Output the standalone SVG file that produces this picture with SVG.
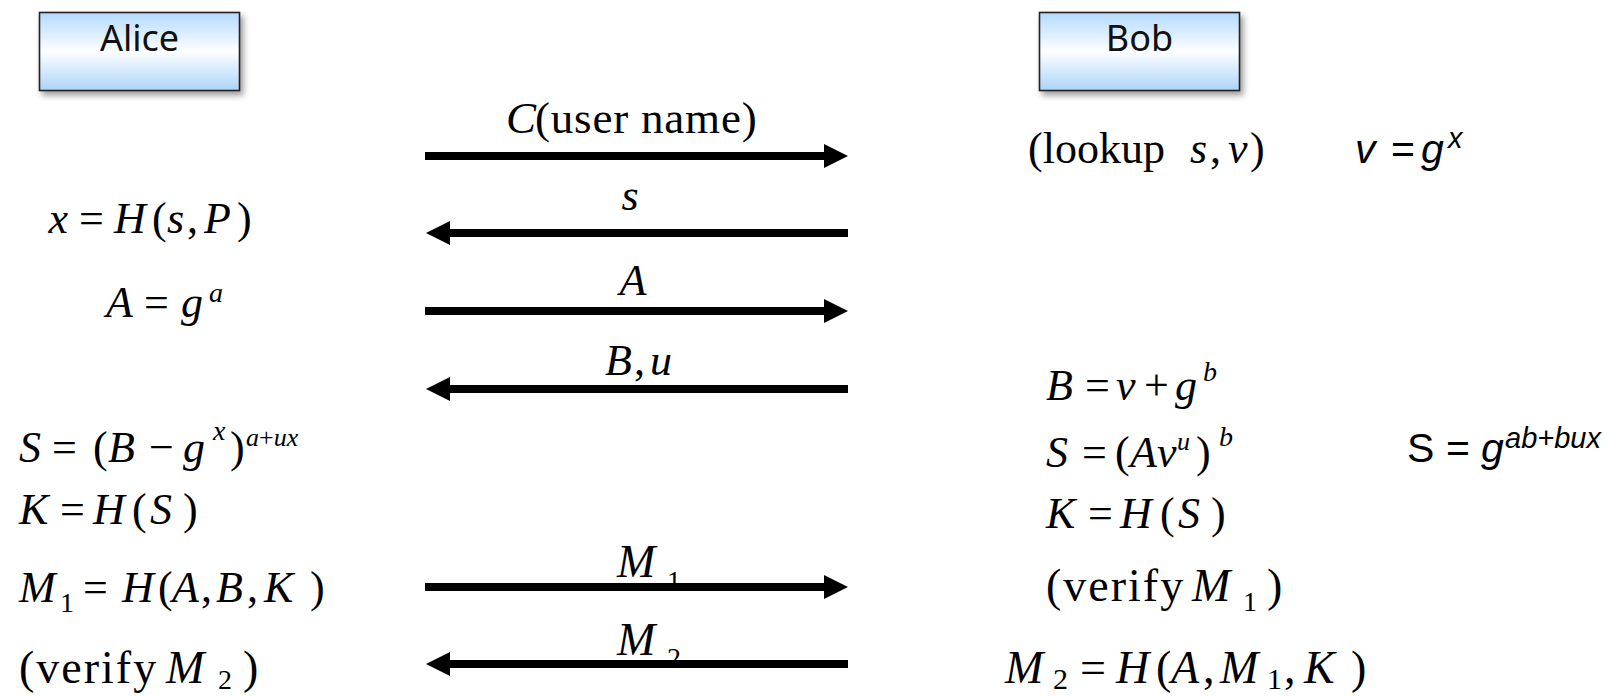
<svg xmlns="http://www.w3.org/2000/svg" width="1619" height="696" viewBox="0 0 1619 696">
  <style>
    .m { font-family: "Liberation Serif", "Times New Roman", serif; font-size: 44px; fill: #000; }
    .i { font-style: italic; }
    .big { font-size: 46px; letter-spacing: 2px; }
    .sup { font-size: 28px; }
    .sm { font-size: 26px; }
    .sans { font-family: "Liberation Sans", Arial, sans-serif; font-size: 41px; fill: #000; }
    .who { font-family: "Noto Sans", "Liberation Sans", sans-serif; font-size: 36px; fill: #111; text-anchor: middle; }
    .box { fill: url(#boxFill); stroke: #222; stroke-width: 1.6; filter: url(#shadow); }
    .msg { stroke: #000; stroke-width: 8; fill: none; marker-end: url(#head); }
  </style>
  <defs>
    <linearGradient id="boxFill" x1="0" y1="0" x2="0" y2="1">
      <stop offset="0" stop-color="#b4d9fd"/>
      <stop offset="0.5" stop-color="#fdfeff"/>
      <stop offset="1" stop-color="#acd4fa"/>
    </linearGradient>
    <filter id="shadow" x="-10%" y="-20%" width="125%" height="150%">
      <feDropShadow dx="3" dy="4" stdDeviation="3" flood-color="#000" flood-opacity="0.4"/>
    </filter>
    <marker id="head" markerUnits="userSpaceOnUse" markerWidth="24" markerHeight="24" refX="6" refY="12" orient="auto">
      <path d="M0,0 L24,12 L0,24 z" fill="#000"/>
    </marker>
  </defs>

  <!-- parties -->
  <g id="node-alice">
    <rect class="box" x="39.5" y="12.5" width="200" height="78"/>
    <text class="who" x="139.5" y="51">Alice</text>
  </g>
  <g id="node-bob">
    <rect class="box" x="1039.5" y="12.5" width="200" height="78"/>
    <text class="who" x="1139.5" y="51">Bob</text>
  </g>

  <!-- Alice's computations -->
  <g id="alice-steps">
    <text class="m"><tspan class="i" x="48.5" y="233">x</tspan><tspan x="79">=</tspan><tspan class="i" x="114">H</tspan><tspan x="152">(</tspan><tspan class="i" x="167">s</tspan><tspan x="187">,</tspan><tspan class="i" x="204">P</tspan><tspan x="237">)</tspan></text>
    <text class="m"><tspan class="i" x="106" y="317">A</tspan><tspan x="144">=</tspan><tspan class="i" x="181">g</tspan><tspan class="i sup" x="209" y="302">a</tspan></text>
    <text class="m"><tspan class="i" x="19" y="462">S</tspan><tspan x="52">=</tspan><tspan x="93">(</tspan><tspan class="i" x="108">B</tspan><tspan x="149">−</tspan><tspan class="i" x="183">g</tspan><tspan class="i sup" x="213" y="440">x</tspan><tspan x="230" y="462">)</tspan><tspan class="sm" x="246" y="446"><tspan class="i">a</tspan>+<tspan class="i">ux</tspan></tspan></text>
    <text class="m"><tspan class="i" x="19" y="524">K</tspan><tspan x="60">=</tspan><tspan class="i" x="93">H</tspan><tspan x="132">(</tspan><tspan class="i" x="150">S</tspan><tspan x="183">)</tspan></text>
    <text class="m"><tspan class="i" x="19" y="602">M</tspan><tspan class="sup" x="60" y="612">1</tspan><tspan x="83" y="602">=</tspan><tspan class="i" x="122">H</tspan><tspan x="158">(</tspan><tspan class="i" x="172">A</tspan><tspan x="201">,</tspan><tspan class="i" x="216">B</tspan><tspan x="247">,</tspan><tspan class="i" x="264">K</tspan><tspan x="310">)</tspan></text>
    <text class="m"><tspan class="big" x="19" y="683">(verify</tspan><tspan class="i" style="font-size:46px" x="166">M</tspan><tspan class="sup" x="218" y="689">2</tspan><tspan class="big" x="243" y="683">)</tspan></text>
  </g>

  <!-- Bob's computations -->
  <g id="bob-steps">
    <text class="m"><tspan x="1028" y="163">(lookup</tspan><tspan class="i" x="1190">s</tspan><tspan x="1210">,</tspan><tspan class="i" x="1228">v</tspan><tspan x="1250">)</tspan></text>
    <text class="m"><tspan class="i" x="1046" y="400">B</tspan><tspan x="1085">=</tspan><tspan class="i" x="1116">v</tspan><tspan x="1144">+</tspan><tspan class="i" x="1175">g</tspan><tspan class="i sup" x="1203" y="381">b</tspan></text>
    <text class="m"><tspan class="i" x="1046" y="467">S</tspan><tspan x="1082">=</tspan><tspan x="1115">(</tspan><tspan class="i" x="1130">A</tspan><tspan class="i" x="1157">v</tspan><tspan class="i sm" x="1177" y="450">u</tspan><tspan x="1196" y="467">)</tspan><tspan class="i sup" x="1219" y="446">b</tspan></text>
    <text class="m"><tspan class="i" x="1046" y="528">K</tspan><tspan x="1088">=</tspan><tspan class="i" x="1120">H</tspan><tspan x="1160">(</tspan><tspan class="i" x="1178">S</tspan><tspan x="1211">)</tspan></text>
    <text class="m"><tspan class="big" x="1046" y="601">(verify</tspan><tspan class="i" style="font-size:46px" x="1192">M</tspan><tspan class="sup" x="1243" y="611">1</tspan><tspan class="big" x="1267" y="601">)</tspan></text>
    <text class="m" style="font-size:46px"><tspan class="i" x="1005" y="683">M</tspan><tspan style="font-size:30px" x="1053" y="689">2</tspan><tspan x="1080" y="683">=</tspan><tspan class="i" x="1116">H</tspan><tspan x="1156">(</tspan><tspan class="i" x="1171">A</tspan><tspan x="1203">,</tspan><tspan class="i" x="1220">M</tspan><tspan style="font-size:30px" x="1267" y="689">1</tspan><tspan x="1284" y="683">,</tspan><tspan class="i" x="1304">K</tspan><tspan x="1351">)</tspan></text>
  </g>

  <!-- side notes -->
  <g id="notes">
    <text class="sans"><tspan class="i" x="1355" y="163">v</tspan><tspan x="1391">=</tspan><tspan class="i" x="1421">g</tspan><tspan class="i" style="font-size:29px" x="1448" y="148">x</tspan></text>
    <text class="sans"><tspan x="1407" y="462">S</tspan><tspan x="1446">=</tspan><tspan class="i" x="1481">g</tspan><tspan class="i" style="font-size:29px" x="1505" y="448">ab+bux</tspan></text>
  </g>

  <!-- message labels -->
  <g id="labels">
    <text class="m" style="font-size:45px"><tspan class="i" x="506" y="133">C</tspan><tspan x="535" style="letter-spacing:0.8px">(user name)</tspan></text>
    <text class="m i" x="630" y="210" text-anchor="middle">s</text>
    <text class="m i" x="633" y="295" text-anchor="middle">A</text>
    <text class="m"><tspan class="i" x="605" y="375">B</tspan><tspan x="634">,</tspan><tspan class="i" x="650">u</tspan></text>
    <text class="m" style="font-size:46px"><tspan class="i" x="617" y="577">M</tspan><tspan class="sup" x="667" y="590">1</tspan></text>
    <text class="m" style="font-size:46px"><tspan class="i" x="617" y="655">M</tspan><tspan class="sup" x="667" y="667">2</tspan></text>
  </g>

  <!-- messages -->
  <g id="connectors">
    <line class="msg" x1="425" y1="156" x2="830" y2="156"/>
    <line class="msg" x1="848" y1="233" x2="444" y2="233"/>
    <line class="msg" x1="425" y1="311" x2="830" y2="311"/>
    <line class="msg" x1="848" y1="389" x2="444" y2="389"/>
    <line class="msg" x1="425" y1="587" x2="830" y2="587"/>
    <line class="msg" x1="848" y1="664" x2="444" y2="664"/>
  </g>
</svg>
